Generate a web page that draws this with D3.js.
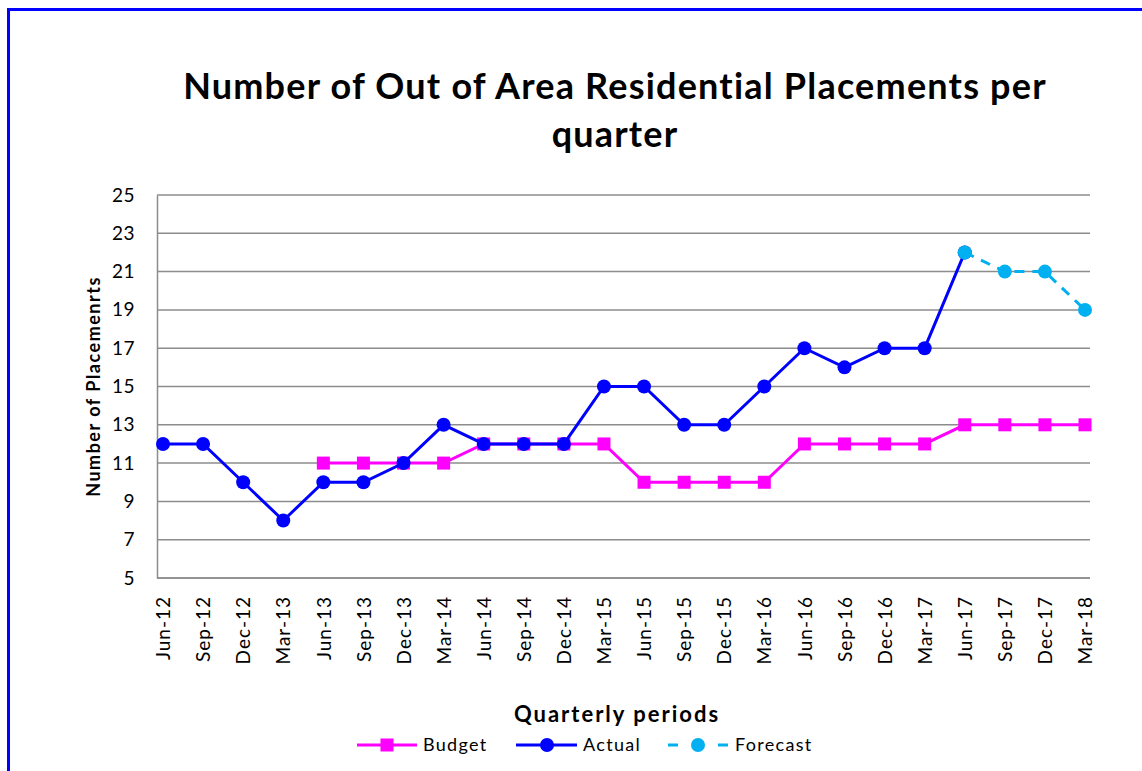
<!DOCTYPE html>
<html>
<head>
<meta charset="utf-8">
<script src="https://cdn.jsdelivr.net/npm/d3@7"></script>
<style>
  body { margin: 0; background: #fff; }
  svg { display: block; font-family: Lato, "Open Sans", sans-serif; }
</style>
</head>
<body>
<div id="chart"></div>
<script>
// quarterly data
const quarters = ["Jun-12", "Sep-12", "Dec-12", "Mar-13", "Jun-13", "Sep-13", "Dec-13", "Mar-14",
  "Jun-14", "Sep-14", "Dec-14", "Mar-15", "Jun-15", "Sep-15", "Dec-15", "Mar-16",
  "Jun-16", "Sep-16", "Dec-16", "Mar-17", "Jun-17", "Sep-17", "Dec-17", "Mar-18"];

const budget = [null, null, null, null, 11, 11, 11, 11, 12, 12, 12, 12, 10, 10, 10, 10,
  12, 12, 12, 12, 13, 13, 13, 13];
const actual = [12, 12, 10, 8, 10, 10, 11, 13, 12, 12, 12, 15, 15, 13, 13, 15,
  17, 16, 17, 17, 22, null, null, null];
const forecast = [null, null, null, null, null, null, null, null, null, null, null, null,
  null, null, null, null, null, null, null, null, 22, 21, 21, 19];

const yTicks = [5, 7, 9, 11, 13, 15, 17, 19, 21, 23, 25];

const width = 1142, height = 771;
const plot = { left: 157, right: 1090, top: 195, bottom: 578 };

const svg = d3.select("#chart").append("svg")
  .attr("width", width)
  .attr("height", height);

// outer frame
svg.append("rect")
  .attr("x", 8.5).attr("y", 9.5)
  .attr("width", 1150).attr("height", 800)
  .attr("fill", "none")
  .attr("stroke", "#0000ff")
  .attr("stroke-width", 3);

const x = d3.scalePoint()
  .domain(quarters)
  .range([163, 1085]);

const y = d3.scaleLinear()
  .domain([5, 25])
  .range([plot.bottom, plot.top]);

// gridlines
svg.append("g")
  .selectAll("line")
  .data(yTicks)
  .join("line")
  .attr("x1", plot.left).attr("x2", plot.right)
  .attr("y1", d => y(d)).attr("y2", d => y(d))
  .attr("stroke", "#8c8c8c")
  .attr("stroke-width", 1.5);

// y axis
const yAxis = svg.append("g")
  .attr("transform", `translate(${plot.left},0)`)
  .call(d3.axisLeft(y).tickValues(yTicks).tickSize(0).tickPadding(22));
yAxis.select(".domain").attr("stroke", "#8c8c8c").attr("stroke-width", 1.5);
yAxis.selectAll("text")
  .attr("font-size", 19)
  .attr("font-family", "Lato, sans-serif")
  .attr("letter-spacing", 0.5)
  .attr("fill", "#000");

// x axis
const xAxis = svg.append("g")
  .attr("transform", `translate(0,${plot.bottom})`)
  .call(d3.axisBottom(x).tickSize(0));
xAxis.select(".domain").remove();
xAxis.selectAll("text")
  .attr("font-size", 19)
  .attr("font-family", "Lato, sans-serif")
  .attr("letter-spacing", 1)
  .attr("fill", "#000")
  .attr("text-anchor", "end")
  .attr("transform", "rotate(-90)")
  .attr("x", -18)
  .attr("y", 0)
  .attr("dy", "0.35em");
svg.append("line")
  .attr("x1", plot.left).attr("x2", plot.right)
  .attr("y1", plot.bottom).attr("y2", plot.bottom)
  .attr("stroke", "#8c8c8c").attr("stroke-width", 1.5);

// series
const line = d3.line()
  .defined(d => d.v != null)
  .x(d => x(d.q))
  .y(d => y(d.v));

const toPts = arr => quarters.map((q, i) => ({ q: q, v: arr[i] }));

svg.append("path")
  .datum(toPts(budget))
  .attr("d", line)
  .attr("fill", "none")
  .attr("stroke", "#ff00ff")
  .attr("stroke-width", 3);

svg.append("g")
  .selectAll("rect")
  .data(toPts(budget).filter(d => d.v != null))
  .join("rect")
  .attr("x", d => x(d.q) - 6.5)
  .attr("y", d => y(d.v) - 6.5)
  .attr("width", 13).attr("height", 13)
  .attr("fill", "#ff00ff");

svg.append("path")
  .datum(toPts(actual))
  .attr("d", line)
  .attr("fill", "none")
  .attr("stroke", "#0000ff")
  .attr("stroke-width", 3);

svg.append("g")
  .selectAll("circle")
  .data(toPts(actual).filter(d => d.v != null))
  .join("circle")
  .attr("cx", d => x(d.q))
  .attr("cy", d => y(d.v))
  .attr("r", 7)
  .attr("fill", "#0000ff");

svg.append("path")
  .datum(toPts(forecast))
  .attr("d", line)
  .attr("fill", "none")
  .attr("stroke", "#00b0f0")
  .attr("stroke-width", 3)
  .attr("stroke-dasharray", "10,8");

svg.append("g")
  .selectAll("circle")
  .data(toPts(forecast).filter(d => d.v != null))
  .join("circle")
  .attr("cx", d => x(d.q))
  .attr("cy", d => y(d.v))
  .attr("r", 7)
  .attr("fill", "#00b0f0");

// title
const title = svg.append("text")
  .attr("text-anchor", "middle")
  .attr("font-size", 36)
  .attr("font-weight", "bold")
  .attr("letter-spacing", 1.2)
  .attr("fill", "#000");
title.append("tspan").attr("x", 615).attr("y", 99)
  .text("Number of Out of Area Residential Placements per");
title.append("tspan").attr("x", 615).attr("y", 147)
  .text("quarter");

// axis titles
svg.append("text")
  .attr("transform", `translate(100,${(plot.top + plot.bottom) / 2}) rotate(-90)`)
  .attr("text-anchor", "middle")
  .attr("font-size", 18)
  .attr("font-weight", "bold")
  .attr("letter-spacing", 1.5)
  .text("Number of Placemenrts");

svg.append("text")
  .attr("x", 617).attr("y", 722)
  .attr("text-anchor", "middle")
  .attr("font-size", 22)
  .attr("font-weight", "bold")
  .attr("letter-spacing", 2)
  .text("Quarterly periods");

// legend
const legendY = 745;
const legend = svg.append("g").attr("font-size", 18).attr("letter-spacing", 1.3);

legend.append("line")
  .attr("x1", 357).attr("x2", 417).attr("y1", legendY).attr("y2", legendY)
  .attr("stroke", "#ff00ff").attr("stroke-width", 3);
legend.append("rect")
  .attr("x", 380.5).attr("y", legendY - 6.5).attr("width", 13).attr("height", 13)
  .attr("fill", "#ff00ff");
legend.append("text").attr("x", 423).attr("y", legendY).attr("dy", "0.35em").text("Budget");

legend.append("line")
  .attr("x1", 516).attr("x2", 577).attr("y1", legendY).attr("y2", legendY)
  .attr("stroke", "#0000ff").attr("stroke-width", 3);
legend.append("circle")
  .attr("cx", 547).attr("cy", legendY).attr("r", 7)
  .attr("fill", "#0000ff");
legend.append("text").attr("x", 583).attr("y", legendY).attr("dy", "0.35em").text("Actual");

legend.append("line")
  .attr("x1", 668).attr("x2", 729).attr("y1", legendY).attr("y2", legendY)
  .attr("stroke", "#00b0f0").attr("stroke-width", 3)
  .attr("stroke-dasharray", "10,40");
legend.append("circle")
  .attr("cx", 698).attr("cy", legendY).attr("r", 7)
  .attr("fill", "#00b0f0");
legend.append("text").attr("x", 735).attr("y", legendY).attr("dy", "0.35em").text("Forecast");
</script>
</body>
</html>
